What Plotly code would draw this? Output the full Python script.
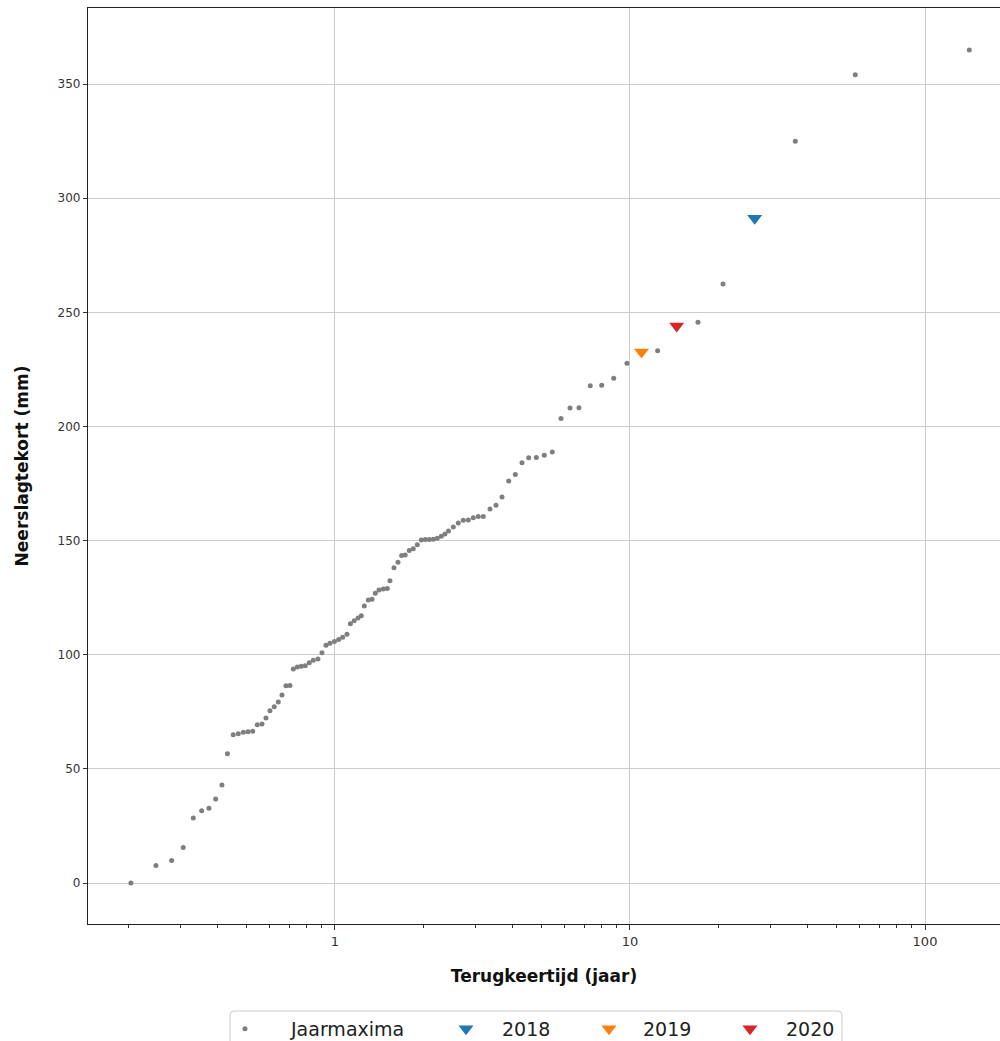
import math
import plotly.graph_objects as go

# Jaarmaxima: return period (years) and precipitation deficit (mm)
RETURN_PERIOD = [
    0.2034, 0.2472, 0.2795, 0.3059, 0.3309, 0.3533, 0.3740, 0.3941, 0.4139, 0.4320,
    0.4519, 0.4701, 0.4890, 0.5071, 0.5260, 0.5452, 0.5657, 0.5835, 0.6020, 0.6226,
    0.6424, 0.6613, 0.6822, 0.7036, 0.7225, 0.7451, 0.7688, 0.7933, 0.8182, 0.8441,
    0.8757, 0.9035, 0.9322, 0.9618, 0.9961, 1.029, 1.062, 1.098, 1.128, 1.162,
    1.197, 1.228, 1.257, 1.297, 1.335, 1.370, 1.410, 1.458, 1.504, 1.536,
    1.585, 1.635, 1.683, 1.730, 1.786, 1.842, 1.901, 1.961, 2.024, 2.087,
    2.154, 2.222, 2.293, 2.360, 2.425, 2.518, 2.618, 2.722, 2.830, 2.943,
    3.060, 3.182, 3.353, 3.514, 3.683, 3.880, 4.086, 4.304, 4.535, 4.813,
    5.123, 5.453, 5.836, 6.261, 6.716, 7.334, 8.019, 8.806, 9.768, 12.41,
    17.00, 20.67, 36.34, 58.03, 141.3,
]
DEFICIT = [
    0.0, 7.7, 9.9, 15.6, 28.5, 31.7, 32.7, 36.8, 42.9, 56.6,
    64.9, 65.4, 66.0, 66.3, 66.5, 69.3, 69.7, 72.3, 75.5, 77.2,
    79.3, 82.4, 86.4, 86.5, 93.7, 94.6, 94.9, 95.2, 96.5, 97.6,
    98.1, 100.9, 104.2, 105.0, 105.8, 106.7, 107.7, 109.0, 113.6, 114.9,
    116.1, 117.1, 121.3, 124.0, 124.3, 126.9, 128.4, 128.8, 129.0, 132.4,
    138.1, 140.5, 143.5, 143.7, 145.7, 146.4, 148.2, 150.3, 150.5, 150.5,
    150.6, 151.0, 151.9, 152.9, 154.2, 155.9, 157.7, 158.9, 159.0, 160.0,
    160.5, 160.6, 163.8, 165.5, 169.1, 176.1, 178.9, 184.1, 186.3, 186.4,
    187.4, 188.8, 203.5, 208.1, 208.2, 217.8, 218.0, 221.1, 227.7, 233.2,
    245.6, 262.4, 324.9, 354.1, 364.9,
]

# Highlighted years
YEARS = ["2018", "2019", "2020"]
YEAR_RETURN_PERIOD = [26.47, 10.94, 14.40]
YEAR_DEFICIT = [291.2, 232.6, 244.0]
YEAR_COLORS = ["#1f77b4", "#ff7f0e", "#d62728"]

X_TICKS = [1, 10, 100]
X_TICK_TEXT = ["1", "10", "100"]
Y_TICKS = [0, 50, 100, 150, 200, 250, 300, 350]

X_MINOR = [m * 10 ** k for k in (-1, 0, 1, 2) for m in range(2, 10)]

# plot area in pixels (used for placing legend entries)
PL, PW, PB, PH = 88, 912, 924, 916


def px_x(p):
    return (p - PL) / PW


def px_y(p):
    return (PB - p) / PH


fig = go.Figure()
fig.add_trace(go.Scatter(
    x=RETURN_PERIOD, y=DEFICIT, mode="markers", name="Jaarmaxima",
    marker=dict(color="#7f7f7f", size=5, line=dict(width=0)),
    legend="legend",
))
legend_ids = ["legend2", "legend3", "legend4"]
for name, t, v, c, lg in zip(YEARS, YEAR_RETURN_PERIOD, YEAR_DEFICIT, YEAR_COLORS, legend_ids):
    fig.add_trace(go.Scatter(
        x=[t], y=[v], mode="markers", name=name,
        marker=dict(color=c, size=13, symbol="triangle-down", line=dict(width=0)),
        legend=lg,
    ))

legend_font = dict(family="DejaVu Sans", size=19, color="#222222")
# (left pixel, itemwidth) per legend entry
legend_specs = [(199, 82), (430, 62), (575, 58), (714, 62)]
legend_layout = {}
for key, (left, w) in zip(["legend"] + legend_ids, legend_specs):
    legend_layout[key] = dict(
        orientation="h", x=px_x(left), xanchor="left", y=px_y(1010), yanchor="top",
        borderwidth=0, bgcolor="rgba(0,0,0,0)", itemwidth=w, font=legend_font,
    )

# legend frame (rounded rectangle, cut off by the figure bottom like the original)
x0, x1 = px_x(230), px_x(842)
y0, y1 = px_y(1011), px_y(1070)
rx, ry = 4 / PW, 4 / PH
frame_path = (
    f"M {x0 + rx},{y0} L {x1 - rx},{y0} Q {x1},{y0} {x1},{y0 - ry} "
    f"L {x1},{y1} L {x0},{y1} L {x0},{y0 - ry} Q {x0},{y0} {x0 + rx},{y0} Z"
)

axis_font = dict(family="DejaVu Sans", size=12, color="#333333")

fig.update_layout(
    width=1000, height=1041,
    margin=dict(l=88, r=0, t=8, b=117, autoexpand=False),
    paper_bgcolor="white", plot_bgcolor="white",
    font=dict(family="DejaVu Sans", color="#222222"),
    showlegend=True,
    shapes=[dict(type="path", path=frame_path, xref="paper", yref="paper",
                 line=dict(color="#cccccc", width=1), fillcolor="rgba(0,0,0,0)",
                 layer="above")],
    xaxis=dict(
        type="log",
        range=[math.log10(0.1455), 2.2542],
        tickmode="array", tickvals=X_TICKS, ticktext=X_TICK_TEXT,
        ticks="outside", ticklen=5, tickcolor="#333333", tickwidth=1,
        tickfont=dict(family="DejaVu Sans", size=13, color="#333333"),
        showline=True, linecolor="#222222", linewidth=1.3, mirror=True,
        showgrid=True, gridcolor="#cccccc", gridwidth=1,
        zeroline=False,
        minor=dict(tickmode="array", tickvals=X_MINOR, ticks="outside",
                   ticklen=3, tickcolor="#333333", showgrid=False),
        title=dict(text="<b>Terugkeertijd (jaar)</b>", standoff=22,
                   font=dict(family="DejaVu Sans", size=17, color="#111111")),
    ),
    yaxis=dict(
        range=[-17.96, 383.3],
        tickmode="array", tickvals=Y_TICKS,
        ticks="outside", ticklen=4, tickcolor="#333333", tickwidth=1,
        tickfont=axis_font,
        showline=True, linecolor="#222222", linewidth=1.3, mirror=False,
        showgrid=True, gridcolor="#cccccc", gridwidth=1,
        zeroline=False,
        title=dict(text="<b>Neerslagtekort (mm)</b>", standoff=24,
                   font=dict(family="DejaVu Sans", size=17, color="#111111")),
    ),
    **legend_layout,
)

fig.write_html("out.html")
